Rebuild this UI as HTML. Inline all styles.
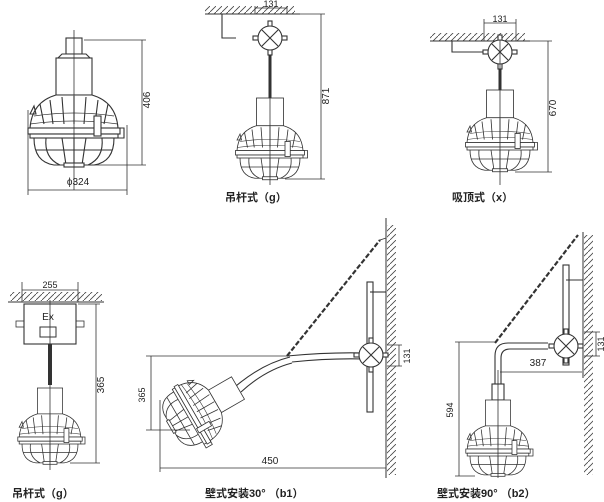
<!DOCTYPE html>
<html><head><meta charset="utf-8"><style>
html,body{margin:0;padding:0;background:#fff;width:604px;height:502px;overflow:hidden}
text{font-family:"Liberation Sans","Noto Sans CJK SC",sans-serif;fill:#222}
</style></head><body>
<svg width="604" height="502" viewBox="0 0 604 502" xmlns="http://www.w3.org/2000/svg">
<defs>
<pattern id="h" width="6" height="6" patternUnits="userSpaceOnUse"><path d="M0 6 L6 0" stroke="#444" stroke-width="0.8"/></pattern>
<g id="lamp" fill="none" stroke="#333" stroke-width="1.1">
 <rect x="-18" y="0" width="36" height="37" fill="#fff"/>
 <path d="M-18 37 Q-42 44 -44 70 L44 70 Q42 44 18 37 Z" fill="#fff"/>
 <path d="M-34 46 L-30 66 M-24 42 L-21 66 M-12 39 L-10 66 M0 38 L0 66 M12 39 L10 66 M24 42 L21 66 M34 46 L30 66"/>
 <path d="M-40 58 Q0 52 40 58 M-44 66 Q0 60 44 66" stroke-width="0.8"/>
 <rect x="-46" y="70" width="92" height="6" fill="#fff"/>
 <rect x="-44" y="76" width="88" height="4" fill="#fff"/>
 <path d="M44 70 L50 70 L50 80 L44 80"/>
 <path d="M-40 80 Q-40 104 -20 107 L20 107 Q40 104 40 80"/>
 <path d="M-28 80 Q-30 100 -14 107 M-12 80 L-8 107 M0 80 L0 107 M12 80 L8 107 M28 80 Q30 100 14 107 M-38 92 L38 92"/>
 <rect x="-10" y="105" width="20" height="4" fill="#fff"/>
 <rect x="20" y="58" width="7" height="20" fill="#fff"/>
 <path d="M-44 56 L-40 48 L-38 56 Z"/>
</g>
<g id="box" fill="#fff" stroke="#333" stroke-width="1.1">
 <rect x="-17" y="-2" width="34" height="4"/>
 <rect x="-2" y="-17" width="4" height="34"/>
 <circle r="12"/><path d="M-8 -8 L8 8 M-8 8 L8 -8" fill="none"/>
</g>
</defs>
<g stroke="#333" fill="none" stroke-width="0.8">
<rect x="66" y="38" width="16" height="16" fill="#fff" stroke-width="1.1"/>
<path d="M62 54 L86 54 L90 58 L58 58 Z" fill="#fff" stroke-width="1.1"/>
<use href="#lamp" transform="translate(74,58)"/>
<line x1="74" y1="30" x2="74" y2="190"/>
<path d="M84 40 L146 40 M84 165 L146 165 M142 40 L142 165"/>
<path d="M28 110 L28 195 M127 125 L127 195 M28 190 L127 190"/>
</g>
<text x="150" y="100" font-size="10" transform="rotate(-90 150 100)" text-anchor="middle">406</text>
<text x="78" y="185" font-size="10" text-anchor="middle">ϕ324</text>

<rect x="205" y="6" width="90" height="8" fill="url(#h)"/>
<line x1="205" y1="14" x2="300" y2="14" stroke="#333"/>
<g stroke="#333" fill="none" stroke-width="0.8">
<path d="M222 14 L222 38 L236 38" stroke-width="1.1"/>
<path d="M255 14 L255 6 M287 14 L287 6 M255 8 L287 8"/>
<line x1="270" y1="50" x2="270" y2="98" stroke-width="3"/>
<use href="#box" transform="translate(270,38)"/>
<use href="#lamp" transform="translate(270,98) scale(0.75)"/>
<line x1="270" y1="90" x2="270" y2="185"/>
<path d="M295 14 L325 14 M285 179 L325 179 M321 14 L321 179"/>
</g>
<text x="271" y="7" font-size="9" text-anchor="middle">131</text>
<text x="329" y="96" font-size="10" transform="rotate(-90 329 96)" text-anchor="middle">871</text>
<text x="225" y="201" font-size="11" font-weight="bold">吊杆式（g）</text>

<rect x="430" y="33" width="95" height="8" fill="url(#h)"/>
<line x1="430" y1="41" x2="530" y2="41" stroke="#333"/>
<g stroke="#333" fill="none" stroke-width="0.8">
<path d="M452 41 L452 52 L486 52" stroke-width="1.1"/>
<path d="M484 41 L484 19 M516 41 L516 19 M484 23 L516 23"/>
<line x1="500" y1="62" x2="500" y2="90" stroke-width="3"/>
<use href="#box" transform="translate(500,52)"/>
<use href="#lamp" transform="translate(500,90) scale(0.75)"/>
<line x1="500" y1="40" x2="500" y2="185"/>
<path d="M520 41 L552 41 M515 172 L552 172 M548 41 L548 172"/>
</g>
<text x="500" y="22" font-size="9" text-anchor="middle">131</text>
<text x="556" y="108" font-size="10" transform="rotate(-90 556 108)" text-anchor="middle">670</text>
<text x="452" y="201" font-size="11" font-weight="bold">吸顶式（x）</text>

<rect x="10" y="292" width="92" height="9" fill="url(#h)"/>
<line x1="8" y1="302" x2="104" y2="302" stroke="#333"/>
<g stroke="#333" fill="none" stroke-width="0.8">
<path d="M22 282 L22 302 M78 282 L78 302 M22 290 L78 290"/>
<rect x="24" y="304" width="52" height="40" fill="#fff" stroke-width="1.1"/>
<rect x="40" y="327" width="16" height="10" stroke-width="1"/>
<rect x="16" y="321" width="8" height="6"/><rect x="76" y="321" width="8" height="6"/>
<line x1="50" y1="344" x2="50" y2="385" stroke-width="4"/>
<use href="#lamp" transform="translate(50,388) scale(0.7)"/>
<line x1="50" y1="300" x2="50" y2="470"/>
<path d="M78 304 L100 304 M70 463 L100 463 M96 304 L96 463"/>
</g>
<text x="50" y="288" font-size="9" text-anchor="middle">255</text>
<text x="48" y="320" font-size="10" text-anchor="middle">Ex</text>
<text x="104" y="385" font-size="10" transform="rotate(-90 104 385)" text-anchor="middle">365</text>
<text x="12" y="497" font-size="11" font-weight="bold">吊杆式（g）</text>

<rect x="387" y="225" width="9" height="250" fill="url(#h)"/>
<line x1="386" y1="218" x2="386" y2="478" stroke="#333"/>
<g stroke="#333" fill="none" stroke-width="0.8">
<rect x="367" y="282" width="6" height="130" fill="#fff" stroke-width="1.1"/>
<path d="M370 292 L386 292" stroke-width="1.1"/>
<path d="M287 356 Q330 352 365 353 L365 359 Q330 358 292 362" fill="#fff" stroke-width="1.1"/>
<path d="M236 386 Q262 364 290 357 M241 392 Q265 370 292 363" stroke-width="1.1"/>
<use href="#box" transform="translate(371,355)"/>
<path d="M287 356 L380 240" stroke-dasharray="5 2" stroke-width="2.2"/>
<path d="M380 240 L386 238"/>
<use href="#lamp" transform="translate(238,388) rotate(60) scale(0.72)"/>
<path d="M146 356 L287 356 M146 430 L190 430 M151 356 L151 430"/>
<path d="M160 400 L160 472 M386 420 L386 472 M160 468 L386 468"/>
<path d="M387 345 L402 345 M387 366 L402 366 M399 345 L399 366"/>
</g>
<text x="145" y="395" font-size="9" transform="rotate(-90 145 395)" text-anchor="middle">365</text>
<text x="270" y="464" font-size="10" text-anchor="middle">450</text>
<text x="410" y="356" font-size="9" transform="rotate(-90 410 356)" text-anchor="middle">131</text>
<text x="205" y="497" font-size="11" font-weight="bold">壁式安装30°  （b1）</text>

<rect x="584" y="235" width="9" height="240" fill="url(#h)"/>
<line x1="583" y1="232" x2="583" y2="378" stroke="#333"/>
<g stroke="#333" fill="none" stroke-width="0.8">
<rect x="563" y="265" width="6" height="100" fill="#fff" stroke-width="1.1"/>
<path d="M566 280 L583 280" stroke-width="1.1"/>
<path d="M548 343 L508 343 Q495 343 495 356 L495 384 L501 384 L501 358 Q501 349 510 349 L548 349" fill="#fff" stroke-width="1.1"/>
<use href="#box" transform="translate(566,346)"/>
<path d="M495 343 L578 235" stroke-dasharray="5 2" stroke-width="2.2"/>
<rect x="492" y="384" width="12" height="16" fill="#fff" stroke-width="1.1"/>
<use href="#lamp" transform="translate(498,400) scale(0.7)"/>
<line x1="498" y1="370" x2="498" y2="478"/>
<path d="M495 342 L455 342 M475 476 L455 476 M459 342 L459 476"/>
<path d="M500 372 L582 372"/>
<path d="M584 332 L600 332 M584 356 L600 356 M596 332 L596 356"/>
</g>
<text x="538" y="366" font-size="10" text-anchor="middle">387</text>
<text x="453" y="410" font-size="9" transform="rotate(-90 453 410)" text-anchor="middle">594</text>
<text x="604" y="344" font-size="9" transform="rotate(-90 604 344)" text-anchor="middle">131</text>
<text x="437" y="497" font-size="11" font-weight="bold">壁式安装90°  （b2）</text>
</svg>
</body></html>
